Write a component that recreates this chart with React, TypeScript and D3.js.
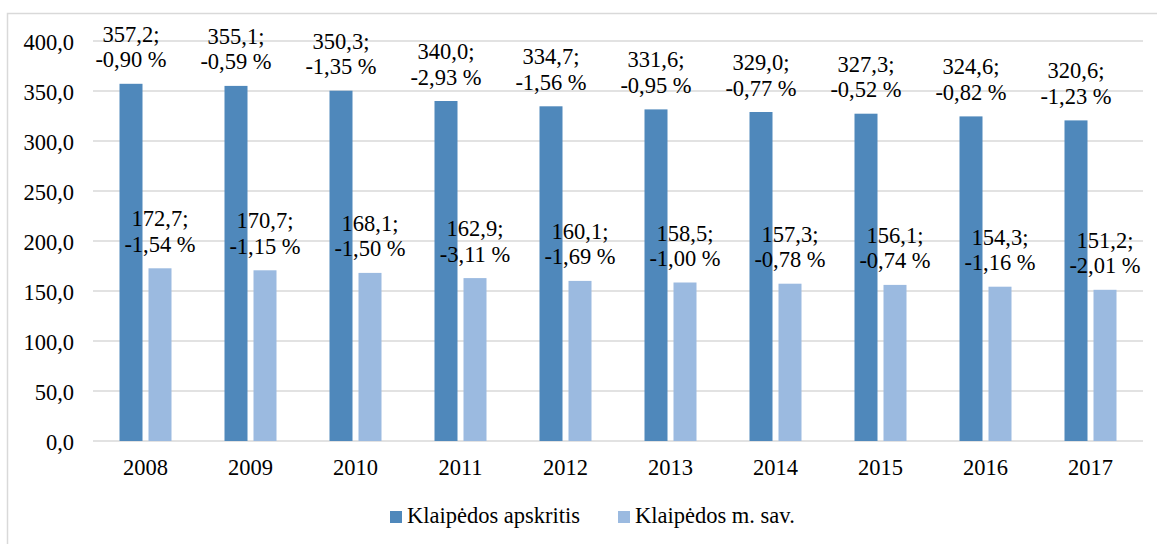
import { useEffect, useRef } from 'react';
import * as d3 from 'd3';

const YEARS = ['2008', '2009', '2010', '2011', '2012', '2013', '2014', '2015', '2016', '2017'];
const COUNTY = [357.2, 355.1, 350.3, 340.0, 334.7, 331.6, 329.0, 327.3, 324.6, 320.6];
const COUNTY_CHANGE = ['-0,90 %', '-0,59 %', '-1,35 %', '-2,93 %', '-1,56 %', '-0,95 %', '-0,77 %', '-0,52 %', '-0,82 %', '-1,23 %'];
const CITY = [172.7, 170.7, 168.1, 162.9, 160.1, 158.5, 157.3, 156.1, 154.3, 151.2];
const CITY_CHANGE = ['-1,54 %', '-1,15 %', '-1,50 %', '-3,11 %', '-1,69 %', '-1,00 %', '-0,78 %', '-0,74 %', '-1,16 %', '-2,01 %'];
const SERIES_NAMES = ['Klaipėdos apskritis', 'Klaipėdos m. sav.'];
const Y_TICKS = [0, 50, 100, 150, 200, 250, 300, 350, 400];

const WIDTH = 1157;
const HEIGHT = 544;
const COLORS = ['#4f88bb', '#9bbae0'];
const FONT = '"Liberation Serif", "Times New Roman", serif';
const FS = '22.5px';

const fmt = (v: number) => v.toFixed(1).replace('.', ',');

export default function App() {
  const ref = useRef<SVGSVGElement | null>(null);

  useEffect(() => {
    if (!ref.current) return;
    const svg = d3.select(ref.current);
    svg.selectAll('*').remove();

    const m = { left: 93, right: 1143, top: 41, bottom: 441 };

    // outer frame (left + top only visible)
    svg.append('path')
      .attr('d', `M7.5,${HEIGHT} V13.5 H${WIDTH}`)
      .attr('fill', 'none')
      .attr('stroke', '#d9d9d9')
      .attr('stroke-width', 1.5);

    const x = d3.scaleBand().domain(YEARS).range([m.left, m.right]);
    const y = d3.scaleLinear().domain([0, 400]).range([m.bottom, m.top]);

    svg.append('g')
      .selectAll('line')
      .data(Y_TICKS)
      .join('line')
      .attr('x1', m.left)
      .attr('x2', m.right)
      .attr('y1', d => y(d))
      .attr('y2', d => y(d))
      .attr('stroke', '#d9d9d9')
      .attr('stroke-width', 1.5);

    svg.append('g')
      .selectAll('text')
      .data(Y_TICKS)
      .join('text')
      .attr('x', 74)
      .attr('y', d => y(d) + 9)
      .attr('text-anchor', 'end')
      .text(d => fmt(d));

    svg.append('g')
      .selectAll('text')
      .data(YEARS)
      .join('text')
      .attr('x', d => x(d)! + x.bandwidth() / 2)
      .attr('y', 475)
      .attr('text-anchor', 'middle')
      .text(d => d);

    const barW = 23;
    const gap = 3;
    const series = [
      { values: COUNTY, change: COUNTY_CHANGE, offset: -gap - barW },
      { values: CITY, change: CITY_CHANGE, offset: gap },
    ];

    series.forEach((s, si) => {
      const g = svg.append('g');
      g.selectAll('rect')
        .data(YEARS)
        .join('rect')
        .attr('x', d => x(d)! + x.bandwidth() / 2 + s.offset)
        .attr('y', (_, i) => y(s.values[i]))
        .attr('width', barW)
        .attr('height', (_, i) => y(0) - y(s.values[i]))
        .attr('fill', COLORS[si]);

      const labels = g.selectAll('text.lbl')
        .data(YEARS)
        .join('text')
        .attr('class', 'lbl')
        .attr('text-anchor', 'middle');
      labels.append('tspan')
        .attr('x', d => x(d)! + x.bandwidth() / 2 + s.offset + barW / 2)
        .attr('y', (_, i) => y(s.values[i]) - 42)
        .text((_, i) => `${fmt(s.values[i])};`);
      labels.append('tspan')
        .attr('x', d => x(d)! + x.bandwidth() / 2 + s.offset + barW / 2)
        .attr('y', (_, i) => y(s.values[i]) - 16.5)
        .text((_, i) => s.change[i]);
    });

    // legend
    const legendX = [390, 618];
    const lg = svg.append('g');
    SERIES_NAMES.forEach((name, i) => {
      lg.append('rect')
        .attr('x', legendX[i])
        .attr('y', 511)
        .attr('width', 12)
        .attr('height', 12)
        .attr('fill', COLORS[i]);
      lg.append('text')
        .attr('x', legendX[i] + 17)
        .attr('y', 523)
        .text(name);
    });
  }, []);

  return (
    <svg
      ref={ref}
      width={WIDTH}
      height={HEIGHT}
      fontFamily={FONT}
      fontSize={FS}
      fill="#000"
      style={{ position: 'absolute', left: 0, top: 0, background: '#fff' }}
    />
  );
}
